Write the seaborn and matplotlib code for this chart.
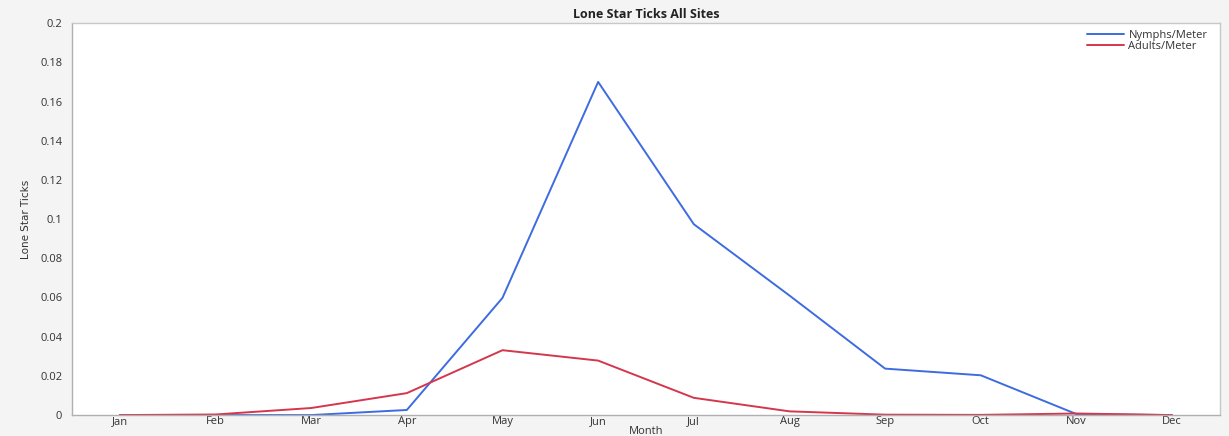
import numpy as np
import pandas as pd
import seaborn as sns
from matplotlib import pyplot as plt
from matplotlib.ticker import MultipleLocator

months = ['Jan', 'Feb', 'Mar', 'Apr', 'May', 'Jun', 'Jul', 'Aug', 'Sep', 'Oct', 'Nov', 'Dec']
nymphs = [0.0, 0.0, 0.0, 0.0026, 0.0598, 0.170, 0.0974, 0.061, 0.0237, 0.0203, 0.0005, 0.0]
adults = [0.0, 0.0003, 0.0036, 0.0112, 0.0331, 0.0278, 0.0088, 0.0019, 0.0002, 0.0001, 0.0008, 0.0]
series = ['Nymphs/Meter', 'Adults/Meter']
colors = ['#3d6be0', '#d4374c']

df = pd.DataFrame({
    'Month': months * 2,
    'value': nymphs + adults,
    'series': [series[0]] * len(months) + [series[1]] * len(months),
})
df['x'] = df['Month'].map({m: i for i, m in enumerate(months)})

sns.set_style('white')
plt.rcParams['font.family'] = ['Open Sans', 'DejaVu Sans']

fig = plt.figure(figsize=(12.29, 4.36), dpi=100, facecolor='#f4f4f4')
ax = fig.add_axes([0.0586, 0.048, 0.934, 0.899])
ax.set_facecolor('white')

sns.lineplot(data=df, x='x', y='value', hue='series', hue_order=series,
             palette=colors, linewidth=1.4, ax=ax)

ax.set_xlim(-0.5, 11.5)
ax.set_ylim(0, 0.2)
ax.set_xticks(range(len(months)))
ax.set_xticklabels(months)
ax.yaxis.set_major_locator(MultipleLocator(0.02))
ax.yaxis.set_minor_locator(MultipleLocator(0.01))
ax.set_yticklabels(['0' if abs(t) < 1e-9 else ('%g' % round(t, 2)) for t in ax.get_yticks()])
ax.tick_params(axis='both', labelsize=8, colors='#333333', length=4, width=0.8, pad=3)
ax.tick_params(axis='x', pad=1, length=0)
ax.tick_params(axis='y', which='minor', length=2, width=0.8, color='#999999')
ax.tick_params(axis='y', which='major', color='#999999')

for side in ['left', 'bottom', 'top', 'right']:
    ax.spines[side].set_color('#c8c8c8')
    ax.spines[side].set_linewidth(1.0)
ax.spines['left'].set_color('#b0b0b0')
ax.spines['bottom'].set_color('#b0b0b0')

ax.set_xlabel('Month', fontsize=8, color='#333333', labelpad=-1)
ax.set_ylabel('Lone Star Ticks', fontsize=7.5, color='#333333', labelpad=0,
              family=['Liberation Sans Narrow', 'DejaVu Sans'])
ax.yaxis.set_label_coords(-0.036, 0.5)
ax.set_title('Lone Star Ticks All Sites', fontsize=9, fontweight='bold', color='#222222', pad=4)

leg = ax.legend(title=None, frameon=False, fontsize=8, loc='upper right',
                borderaxespad=0.2, handlelength=3.3, labelspacing=0.05,
                handletextpad=0.4, bbox_to_anchor=(0.995, 1.0))
for t in leg.get_texts():
    t.set_color('#333333')

fig.savefig('out.png', dpi=100, facecolor=fig.get_facecolor())
